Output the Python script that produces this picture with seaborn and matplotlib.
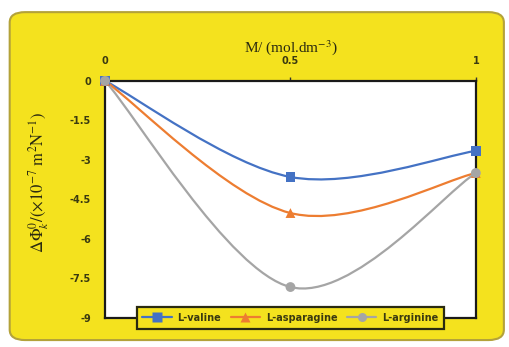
import pandas as pd
import matplotlib
matplotlib.use('Agg')
import matplotlib.pyplot as plt
import seaborn as sns
from matplotlib.path import Path
from matplotlib.patches import PathPatch, FancyBboxPatch
from matplotlib.lines import Line2D

# data
conc = [0, 0.5, 1]
valine = [0, -3.65, -2.66]
asparagine = [0, -5.02, -3.5]
arginine = [0, -7.83, -3.5]
names = ['L-valine', 'L-asparagine', 'L-arginine']
colors = ['#4472C4', '#ED7D31', '#A5A5A5']
markers = ['s', '^', 'o']

df = pd.DataFrame({
    'M': conc * 3,
    'val': valine + asparagine + arginine,
    'series': [n for n in names for _ in conc],
})

sns.set_style('white')
plt.rcParams['mathtext.fontset'] = 'stix'

fig = plt.figure(figsize=(5.1, 3.47), dpi=100)
fig.patch.set_facecolor('white')
# yellow rounded panel
fig.patches.append(FancyBboxPatch((0.019, 0.02), 0.969, 0.945,
                                  boxstyle='round,pad=0,rounding_size=0.03',
                                  transform=fig.transFigure, facecolor='#F4E21E',
                                  edgecolor='#B3A23A', linewidth=1.5, zorder=-10))

ax = fig.add_axes([0.206, 0.084, 0.727, 0.683])
ax.set_zorder(1)
ax.set_facecolor('white')


def smooth_path(xs, ys):
    # Excel style smoothed line (Catmull-Rom as cubic bezier)
    pts = list(zip(xs, ys))
    n = len(pts)
    verts = [pts[0]]
    codes = [Path.MOVETO]
    for i in range(n - 1):
        p0 = pts[max(i - 1, 0)]
        p1 = pts[i]
        p2 = pts[i + 1]
        p3 = pts[min(i + 2, n - 1)]
        c1 = (p1[0] + (p2[0] - p0[0]) / 6, p1[1] + (p2[1] - p0[1]) / 6)
        c2 = (p2[0] - (p3[0] - p1[0]) / 6, p2[1] - (p3[1] - p1[1]) / 6)
        verts += [c1, c2, p2]
        codes += [Path.CURVE4] * 3
    return Path(verts, codes)


for name, c in zip(names, colors):
    sub = df[df['series'] == name]
    ax.add_patch(PathPatch(smooth_path(sub['M'].tolist(), sub['val'].tolist()),
                           facecolor='none', edgecolor=c, linewidth=1.6,
                           zorder=2, clip_on=False))

sns.scatterplot(data=df, x='M', y='val', hue='series', style='series',
                palette=dict(zip(names, colors)), markers=dict(zip(names, markers)),
                s=50, edgecolor='none', ax=ax, legend=False, zorder=3, clip_on=False)

ax.set_xlim(0, 1)
ax.set_ylim(-9, 0)
ax.set_xticks([0, 0.5, 1])
ax.set_xticklabels(['0', '0.5', '1'])
ax.set_yticks([0, -1.5, -3, -4.5, -6, -7.5, -9])
ax.set_yticklabels(['0', '-1.5', '-3', '-4.5', '-6', '-7.5', '-9'])
ax.xaxis.tick_top()
ax.xaxis.set_label_position('top')
ax.tick_params(axis='both', labelsize=7, length=3, width=1, color='#333333',
               labelcolor='#3a3a10')
ax.tick_params(axis='x', pad=8)
ax.tick_params(axis='y', pad=7)
for lab in ax.get_xticklabels() + ax.get_yticklabels():
    lab.set_fontweight('bold')
for sp in ax.spines.values():
    sp.set_visible(True)
    sp.set_color('#1a1a1a')
    sp.set_linewidth(1.6)

ax.set_xlabel(r'M/ (mol.dm$^{-3}$)', fontfamily='Liberation Serif', fontsize=11,
              labelpad=3, color='#2a2a10')
ax.set_ylabel(r'$\Delta\Phi^{0}_{k}/(\times10^{-7}\ \mathrm{m^{2}N^{-1}})$', fontsize=12,
              color='#2a2a10')
ax.yaxis.set_label_coords(-0.145, 0.57)

handles = [Line2D([0], [0], color=c, marker=m, markersize=6.5, linewidth=1.6,
                  markeredgecolor='none') for c, m in zip(colors, markers)]
leg = ax.legend(handles, names, loc='center', bbox_to_anchor=(0.5, 0.0), ncol=3,
                frameon=True, fancybox=False, facecolor='#F4E21E', edgecolor='#2a2a10',
                fontsize=7, handlelength=3, columnspacing=1.0, borderpad=0.6,
                handletextpad=0.6, framealpha=1)
leg.get_frame().set_linewidth(1.6)
for t in leg.get_texts():
    t.set_fontweight('bold')
    t.set_color('#3a3a10')
leg.set_zorder(5)

fig.savefig('out.png', dpi=100, facecolor='white')
